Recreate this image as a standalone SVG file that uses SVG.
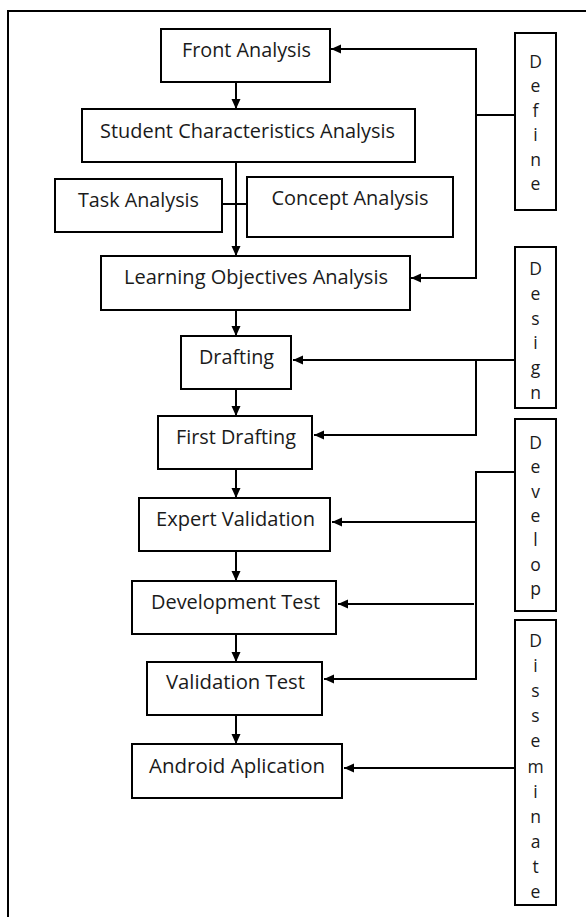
<svg xmlns="http://www.w3.org/2000/svg" width="586" height="917" viewBox="0 0 586 917">
<style>
.box{fill:#fff;stroke:#000;stroke-width:2}
.lbl{font-family:"Open Sans","Noto Sans","Liberation Sans",sans-serif;font-size:19.5px;fill:#1a1a1a;text-anchor:middle}
.ltr{font-family:"Open Sans","Noto Sans","Liberation Sans",sans-serif;font-size:17.5px;fill:#1a1a1a;text-anchor:middle}
.ln{fill:none;stroke:#000;stroke-width:2}
.ar{fill:none;stroke:#000;stroke-width:2;marker-end:url(#ah)}
</style>
<defs>
<marker id="ah" markerUnits="userSpaceOnUse" markerWidth="10" markerHeight="10" viewBox="0 0 10 10" refX="10" refY="5" orient="auto">
<path d="M0,0.5 L10,5 L0,9.5 z" fill="#000"/>
</marker>
</defs>
<rect width="586" height="917" fill="#fff"/>
<path id="frame" d="M600,11 H8 V930" fill="none" stroke="#000" stroke-width="2"/>

<g id="connectors">
<path class="ar" d="M236,82 V109"/>
<path class="ar" d="M236,162 V256"/>
<path class="ln" d="M222,204 H247"/>
<path class="ar" d="M236,310 V336"/>
<path class="ar" d="M236,389 V416"/>
<path class="ar" d="M236,469 V498"/>
<path class="ar" d="M236,551 V581"/>
<path class="ar" d="M236,634 V662"/>
<path class="ar" d="M236,715 V744"/>
<path class="ln" d="M515,115 H476"/>
<path class="ln" d="M476,49 V278"/>
<path class="ar" d="M477,49 H331"/>
<path class="ar" d="M477,278 H411"/>
<path class="ar" d="M515,360 H293"/>
<path class="ln" d="M476,360 V435"/>
<path class="ar" d="M477,435 H314"/>
<path class="ln" d="M515,472 H476 V679"/>
<path class="ar" d="M476,522 H332"/>
<path class="ar" d="M474,604 H338"/>
<path class="ar" d="M477,679 H324"/>
<path class="ar" d="M515,768 H344"/>
</g>

<g id="front-analysis"><rect class="box" x="161" y="29" width="169" height="53"/><text class="lbl" x="246.5" y="57" textLength="129" lengthAdjust="spacingAndGlyphs">Front Analysis</text></g>
<g id="student-characteristics"><rect class="box" x="82" y="109" width="333" height="53"/><text class="lbl" x="247.5" y="138" textLength="295" lengthAdjust="spacingAndGlyphs">Student Characteristics Analysis</text></g>
<g id="task-analysis"><rect class="box" x="55" y="179" width="167" height="53"/><text class="lbl" x="138.5" y="207" textLength="121" lengthAdjust="spacingAndGlyphs">Task Analysis</text></g>
<g id="concept-analysis"><rect class="box" x="247" y="177" width="206" height="60"/><text class="lbl" x="350" y="205" textLength="157" lengthAdjust="spacingAndGlyphs">Concept Analysis</text></g>
<g id="learning-objectives"><rect class="box" x="101" y="256" width="309" height="54"/><text class="lbl" x="256" y="284" textLength="264" lengthAdjust="spacingAndGlyphs">Learning Objectives Analysis</text></g>
<g id="drafting"><rect class="box" x="181" y="336" width="110" height="53"/><text class="lbl" x="236.5" y="364" textLength="75" lengthAdjust="spacingAndGlyphs">Drafting</text></g>
<g id="first-drafting"><rect class="box" x="158" y="416" width="154" height="53"/><text class="lbl" x="236" y="444" textLength="120" lengthAdjust="spacingAndGlyphs">First Drafting</text></g>
<g id="expert-validation"><rect class="box" x="139" y="498" width="191" height="53"/><text class="lbl" x="235.5" y="526" textLength="159" lengthAdjust="spacingAndGlyphs">Expert Validation</text></g>
<g id="development-test"><rect class="box" x="132" y="581" width="204" height="53"/><text class="lbl" x="235.5" y="609" textLength="169" lengthAdjust="spacingAndGlyphs">Development Test</text></g>
<g id="validation-test"><rect class="box" x="147" y="662" width="175" height="53"/><text class="lbl" x="235.5" y="689" textLength="139" lengthAdjust="spacingAndGlyphs">Validation Test</text></g>
<g id="android-aplication"><rect class="box" x="132" y="744" width="210" height="54"/><text class="lbl" x="237" y="773" textLength="176" lengthAdjust="spacingAndGlyphs">Android Aplication</text></g>

<g id="define"><rect class="box" x="515" y="33" width="41" height="177"/>
<text class="ltr" x="535.5" y="68">D</text><text class="ltr" x="535.5" y="92.4">e</text><text class="ltr" x="535.5" y="116.8">f</text><text class="ltr" x="535.5" y="141.2">i</text><text class="ltr" x="535.5" y="165.6">n</text><text class="ltr" x="535.5" y="190">e</text></g>
<g id="design"><rect class="box" x="515" y="247" width="41" height="161"/>
<text class="ltr" x="535.5" y="275">D</text><text class="ltr" x="535.5" y="299.8">e</text><text class="ltr" x="535.5" y="324.6">s</text><text class="ltr" x="535.5" y="349.4">i</text><text class="ltr" x="535.5" y="374.2">g</text><text class="ltr" x="535.5" y="399">n</text></g>
<g id="develop"><rect class="box" x="515" y="419" width="41" height="192"/>
<text class="ltr" x="535.5" y="449">D</text><text class="ltr" x="535.5" y="473.3">e</text><text class="ltr" x="535.5" y="497.6">v</text><text class="ltr" x="535.5" y="521.9">e</text><text class="ltr" x="535.5" y="546.2">l</text><text class="ltr" x="535.5" y="570.5">o</text><text class="ltr" x="535.5" y="594.8">p</text></g>
<g id="disseminate"><rect class="box" x="515" y="620" width="41" height="285"/>
<text class="ltr" x="535.5" y="647">D</text><text class="ltr" x="535.5" y="672.1">i</text><text class="ltr" x="535.5" y="697.2">s</text><text class="ltr" x="535.5" y="722.3">s</text><text class="ltr" x="535.5" y="747.4">e</text><text class="ltr" x="535.5" y="772.5">m</text><text class="ltr" x="535.5" y="797.6">i</text><text class="ltr" x="535.5" y="822.7">n</text><text class="ltr" x="535.5" y="847.8">a</text><text class="ltr" x="535.5" y="872.9">t</text><text class="ltr" x="535.5" y="898">e</text></g>
</svg>
